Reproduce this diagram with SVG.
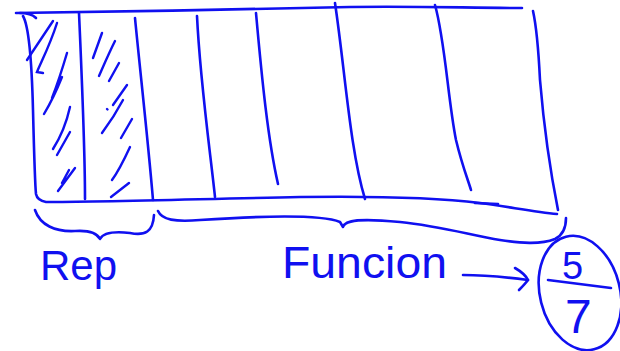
<svg xmlns="http://www.w3.org/2000/svg" width="620" height="351" viewBox="0 0 620 351">
<style>
.s{fill:none;stroke:#1010f0;stroke-width:2.6;stroke-linecap:round;stroke-linejoin:round}
.h{fill:none;stroke:#1010f0;stroke-width:2.4;stroke-linecap:round}
.t{fill:#1010f0;font-family:"Liberation Sans","DejaVu Sans",sans-serif}
</style>
<rect width="620" height="351" fill="#fff"/>
<g id="table">
<path class="s" d="M16,13 C120,12 250,9 350,7 C420,6 470,8 522,8"/>
<path class="s" d="M20,13 C27,13 33,15 36,18"/>
<path class="s" d="M23,16 C30,28 32,70 33,110 C34,150 35,185 36,194 C37,199 40,201 46,202 C100,202 200,199 300,197 C370,196 440,198 480,203 C510,207 535,212 557,214"/>
<path class="s" d="M475,203 L498,204"/>
<path class="s" d="M533,11 C535,20 538,40 540,80 C545,140 552,180 558,210"/>
<path class="s" d="M79,13 C82,80 85,150 85,199"/>
<path class="s" d="M135,18 C140,70 148,140 153,200"/>
<path class="s" d="M197,16 C200,80 210,150 215,197"/>
<path class="s" d="M256,13 C262,80 268,140 278,184"/>
<path class="s" d="M335,3 C345,70 350,150 365,199"/>
<path class="s" d="M435,5 C445,40 448,100 456,140 C462,165 468,180 471,190"/>
<path class="h" d="M53,21 L27,60 M57,23 C50,45 42,60 37,72 L43,73 M67,53 C62,70 57,85 52,98 M62,77 C56,92 50,104 44,114 M70,107 C66,125 60,138 53,149 M70,132 L57,155 M75,168 L58,191 M69,170 L62,183"/>
<path class="h" d="M102,33 L93,58 M115,41 C108,55 103,67 99,76 M119,63 L109,81 M127,85 L113,105 M123,100 C115,115 108,125 102,133 M132,119 L121,138 M130,147 C124,160 118,172 112,180 M129,183 L111,197 M107,109 L107.5,109.5"/>
</g>
<g id="rep-brace">
<path class="s" d="M35,210 C40,225 55,232 75,231 C90,230 97,233 100,239 C103,233 112,231 130,233 C145,236 153,232 154,215"/>
</g>
<g id="rep-label">
<text class="t" x="40" y="280" font-size="42">Rep</text>
</g>
<g id="func-brace">
<path class="s" d="M158,211 C162,220 175,222 200,220 C260,216 320,214 340,222 L343,227 C345,220 360,218 400,222 C440,226 470,235 500,240 C520,243 540,245 555,239 C563,235 566,228 566,218"/>
</g>
<g id="func-label">
<text class="t" x="282" y="278" font-size="44" textLength="165" lengthAdjust="spacingAndGlyphs">Funcion</text>
</g>
<g id="result">
<ellipse class="s" cx="580" cy="293" rx="40" ry="58" transform="rotate(-14 580 293)"/>
<path class="s" d="M548,280 L611,288"/>
<text class="t" x="562" y="279" font-size="38">5</text>
<text class="t" x="565" y="333" font-size="48">7</text>
</g>
<g id="connectors">
<path class="s" d="M463,275 C485,275 505,277 528,280"/>
<path class="s" d="M515,268 C522,272 526,276 528,280 C525,284 522,287 519,290"/>
</g>
</svg>
